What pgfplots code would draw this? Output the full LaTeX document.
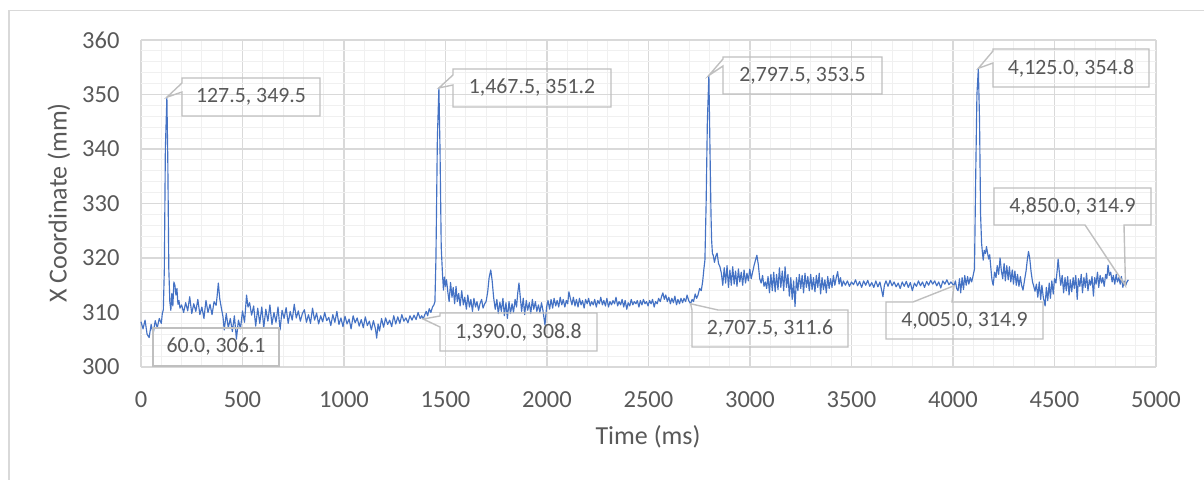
\documentclass[border=0pt]{standalone}
\usepackage{fontspec}
\setmainfont{Carlito}
\usepackage{pgfplots}
\pgfplotsset{compat=1.18}
\definecolor{textgray}{HTML}{595959}
\definecolor{boxgray}{HTML}{BFBFBF}
\definecolor{majgrid}{HTML}{D9D9D9}
\definecolor{mingrid}{HTML}{F0F0F0}
\definecolor{xlblue}{HTML}{4472C4}
\newcommand{\lbl}{\fontsize{21.8bp}{25bp}\selectfont}
\begin{document}
\begin{tikzpicture}[x=1bp,y=1bp]
\useasboundingbox (0,0) rectangle (1204,480);
\draw[majgrid, line width=1.2bp] (9,0) -- (9,469.5) -- (1204,469.5);
\begin{axis}[
  at={(141bp,113bp)}, anchor=south west,
  width=1015bp, height=327bp, scale only axis,
  xmin=0, xmax=5000, ymin=300, ymax=360,
  xtick distance=500, ytick distance=10,
  minor x tick num=4, minor y tick num=4,
  grid=both,
  major grid style={majgrid, line width=1.1bp},
  minor grid style={mingrid, line width=1.1bp},
  axis line style={draw=none},
  major tick length=0pt, minor tick length=0pt,
  scaled x ticks=false, scaled y ticks=false,
  /pgf/number format/assume math mode=true,
  /pgf/number format/1000 sep={},
  ticklabel style={font=\fontsize{24.5bp}{29bp}\selectfont, text=textgray},
  yticklabel style={xshift=-18bp},
  xticklabel style={yshift=-21bp},
  clip=false,
]
\addplot[xlblue, line width=1.15bp, line join=round, mark=none] coordinates {
(0,308.3) (10,307.0) (20,308.6) (30,306.0) (40,305.4) (50,307.8) (60,306.1) (70,308.5) (80,307.2) (90,308.9)
(100,308.0) (105,309.8) (110,310.5) (115,318) (120,340) (127.5,349.5) (132,338) (137,318) (142,312) (147,310.4)
(152,313.5) (157,311.2) (162,315.6) (167,315.0) (172,313.2) (177,314.4) (182,311.5) (187,312.2) (192,310.8) (200,311.4)
(210,310.0) (220,311.8) (230,310.3) (240,312.9) (250,309.8) (260,311.6) (270,310.2) (280,312.4) (290,309.6) (300,311.0)
(310,308.9) (320,312.2) (330,310.0) (340,311.5) (350,309.6) (360,312.0) (370,311.3) (375,313.0) (381,315.4) (388,312.5)
(395,311.0) (404,309.2) (410,306.8) (420,309.8) (430,307.2) (440,308.9) (450,306.5) (460,309.4) (470,305.1) (480,308.6)
(490,307.0) (500,310.3) (510,308.2) (520,313.2) (527,311.0) (535,311.8) (545,309.5) (555,311.2) (565,307.5) (575,310.8)
(585,308.0) (595,311.0) (605,307.3) (615,310.6) (625,308.4) (635,311.4) (645,307.8) (655,310.0) (665,308.2) (675,311.0)
(685,306.8) (695,310.4) (705,308.9) (715,310.9) (725,308.0) (735,310.2) (745,308.6) (755,311.5) (765,309.0) (775,310.3)
(785,308.4) (795,309.8) (805,310.5) (815,308.2) (825,309.6) (835,308.0) (845,310.8) (855,308.6) (865,309.9) (875,307.9)
(885,309.4) (895,308.3) (905,310.0) (915,308.5) (925,309.1) (935,307.6) (945,309.6) (955,308.2) (965,310.2) (975,307.8)
(985,309.0) (995,307.4) (1005,309.3) (1015,307.9) (1025,308.8) (1035,307.0) (1045,309.4) (1055,308.1) (1065,309.0) (1075,307.5)
(1085,308.7) (1095,307.2) (1105,309.2) (1115,307.6) (1125,308.4) (1135,306.8) (1145,308.5) (1155,307.0) (1161,305.3) (1168,307.9)
(1175,306.6) (1185,308.9) (1195,307.3) (1205,309.0) (1215,307.8) (1225,308.6) (1235,307.4) (1245,309.4) (1255,307.9) (1265,309.2)
(1275,308.0) (1285,309.6) (1295,308.4) (1305,309.0) (1315,308.1) (1325,309.4) (1335,308.6) (1345,309.5) (1355,308.7) (1365,310.0)
(1375,308.9) (1383,309.4) (1390,308.8) (1398,309.6) (1405,310.2) (1412,309.4) (1420,310.7) (1428,310.0) (1436,311.0) (1443,311.4)
(1448,312.0) (1453,320) (1460,342) (1467.5,351.2) (1473,340) (1479,322) (1485,317.2) (1490,314.1) (1495,316.5) (1500,314.8)
(1505,316.0) (1512,313.6) (1518,312.0) (1525,315.5) (1532,312.8) (1538,314.6) (1545,311.6) (1552,314.8) (1558,312.0) (1565,313.5)
(1572,311.2) (1580,314.0) (1588,311.4) (1595,312.8) (1603,310.6) (1610,313.2) (1618,311.0) (1625,312.4) (1633,310.2) (1640,312.6)
(1648,311.0) (1655,312.0) (1663,310.4) (1670,311.6) (1678,312.4) (1685,310.8) (1693,311.6) (1700,312.0) (1708,313.8) (1715,316.4)
(1723,317.8) (1730,315.8) (1737,312.8) (1745,310.6) (1753,312.4) (1760,309.8) (1768,311.9) (1775,310.2) (1783,312.6) (1790,309.4)
(1798,311.8) (1805,308.9) (1813,312.0) (1820,309.8) (1828,311.6) (1835,310.0) (1843,312.4) (1850,311.0) (1856,313.6) (1862,315.4)
(1868,313.0) (1875,310.2) (1883,312.6) (1890,309.6) (1898,312.2) (1905,310.4) (1913,311.8) (1920,309.8) (1928,312.4) (1935,310.6)
(1943,312.0) (1950,310.2) (1958,311.4) (1965,310.0) (1973,311.8) (1980,310.4) (1990,307.7) (1998,311.0) (2005,312.2) (2013,310.6)
(2020,312.4) (2028,310.8) (2035,312.6) (2043,311.2) (2050,312.2) (2058,311.0) (2065,312.8) (2073,311.4) (2080,312.4) (2088,311.0)
(2095,312.2) (2102,311.6) (2108,313.8) (2115,312.6) (2123,311.4) (2130,312.8) (2138,311.2) (2145,312.4) (2153,311.0) (2160,312.6)
(2168,311.4) (2175,312.2) (2183,310.8) (2190,312.4) (2198,311.6) (2205,312.6) (2213,311.2) (2220,312.0) (2228,311.4) (2235,312.4)
(2243,311.0) (2250,312.2) (2258,311.6) (2265,312.8) (2273,311.4) (2280,312.2) (2288,311.2) (2295,312.6) (2303,311.0) (2310,312.0)
(2318,311.4) (2325,312.2) (2333,311.6) (2340,312.8) (2348,311.2) (2355,312.0) (2363,311.4) (2370,312.4) (2378,311.0) (2385,312.2)
(2393,310.6) (2400,311.8) (2408,311.2) (2415,312.4) (2423,311.4) (2430,312.0) (2438,311.6) (2445,312.2) (2453,311.0) (2460,312.2)
(2468,311.4) (2475,312.4) (2483,311.6) (2490,312.0) (2498,311.2) (2505,312.2) (2513,311.6) (2520,312.4) (2528,311.0) (2535,312.0)
(2543,311.6) (2550,312.6) (2558,312.0) (2565,313.0) (2571,313.6) (2578,312.4) (2585,313.2) (2593,312.0) (2600,312.8) (2608,311.6)
(2615,312.6) (2623,311.8) (2630,313.0) (2638,311.4) (2645,312.4) (2653,311.6) (2660,312.6) (2668,311.8) (2675,312.6) (2683,312.0)
(2690,313.2) (2698,312.2) (2707.5,311.6) (2715,312.4) (2722,312.0) (2730,313.4) (2737,312.6) (2744,313.2) (2752,314.4) (2760,314.0)
(2767,315.7) (2773,318.0) (2778,319.6) (2784,330) (2790,345) (2797.5,353.5) (2803,340) (2808,328) (2811,323.3) (2815,320.8)
(2819,320.5) (2825,319.2) (2832,320.4) (2838,320.9) (2845,319.0) (2852,318.4) (2859,317.2) (2866,315.0) (2873,318.2) (2880,315.4)
(2887,318.6) (2894,314.6) (2901,317.8) (2908,315.0) (2915,318.4) (2922,315.2) (2929,317.6) (2936,314.8) (2943,318.0) (2950,315.6)
(2957,317.4) (2964,315.0) (2971,317.8) (2978,315.4) (2985,317.2) (2992,315.8) (2999,318.0) (3006,316.2) (3013,317.4) (3020,318.6)
(3027,319.6) (3034,320.5) (3041,318.8) (3048,316.2) (3055,315.4) (3062,316.8) (3069,314.8) (3076,315.6) (3082,314.4) (3089,316.6)
(3096,313.6) (3103,317.0) (3110,314.0) (3117,317.4) (3124,313.8) (3131,317.0) (3138,314.2) (3145,318.2) (3152,314.6) (3159,317.6)
(3166,314.0) (3173,318.4) (3180,314.6) (3187,317.0) (3194,313.0) (3201,316.4) (3208,312.4) (3215,315.8) (3222,311.1) (3229,316.4)
(3236,314.0) (3243,317.0) (3250,314.4) (3257,316.8) (3264,313.6) (3271,317.2) (3278,314.6) (3285,316.6) (3292,314.0) (3299,317.0)
(3306,314.2) (3313,316.4) (3320,313.8) (3327,316.8) (3334,314.6) (3341,317.2) (3348,313.4) (3355,316.4) (3362,314.2) (3369,316.0)
(3376,313.6) (3383,316.6) (3390,314.4) (3397,316.2) (3404,314.6) (3411,316.8) (3418,315.0) (3425,316.4) (3432,317.5) (3439,315.2)
(3446,316.4) (3453,314.8) (3460,315.8) (3470,315.0) (3480,315.8) (3490,314.8) (3500,315.6) (3510,315.1) (3520,316.0) (3530,314.9)
(3540,315.7) (3550,314.6) (3560,315.8) (3570,315.0) (3580,315.9) (3590,314.8) (3600,315.5) (3610,314.6) (3620,315.8) (3630,314.7)
(3640,315.6) (3648,314.2) (3655,312.9) (3662,315.0) (3670,315.8) (3680,314.8) (3690,315.9) (3700,314.9) (3710,315.6) (3720,314.7)
(3730,315.4) (3740,314.4) (3750,315.6) (3760,314.8) (3770,315.7) (3780,314.6) (3790,315.5) (3800,314.0) (3810,315.4) (3820,314.8)
(3830,315.8) (3840,314.9) (3850,315.6) (3860,314.6) (3870,315.7) (3880,315.0) (3890,315.9) (3900,315.2) (3910,315.8) (3920,314.9)
(3930,315.6) (3940,314.5) (3950,315.8) (3960,315.2) (3970,316.0) (3980,315.1) (3990,315.6) (4005,314.9) (4012,315.8) (4018,314.4)
(4025,314.0) (4032,316.2) (4038,313.6) (4045,316.4) (4052,314.2) (4058,316.8) (4065,315.0) (4072,316.6) (4078,315.2) (4085,316.4)
(4092,315.6) (4100,316.9) (4106,318) (4112,335) (4118,350) (4125,354.8) (4131,345) (4136,328) (4141,322.7) (4145,321.0)
(4149,319.6) (4154,321.4) (4160,320.8) (4165,322.1) (4170,321.0) (4176,319.8) (4181,320.6) (4187,318.0) (4192,316.0) (4198,315.0)
(4205,317.4) (4212,316.4) (4218,318.6) (4225,317.0) (4232,320.0) (4238,317.8) (4245,316.2) (4252,319.0) (4258,315.8) (4265,318.6)
(4272,316.0) (4278,318.4) (4285,315.6) (4292,317.8) (4298,315.2) (4305,317.6) (4312,315.0) (4318,317.0) (4325,314.8) (4332,316.6)
(4338,315.0) (4345,314.1) (4352,315.8) (4360,317.6) (4366,319.6) (4372,321.2) (4378,320.0) (4385,317.4) (4392,315.6) (4398,314.8)
(4404,313.9) (4411,315.2) (4418,312.8) (4425,315.6) (4432,312.4) (4438,315.0) (4445,312.8) (4454,311.2) (4460,314.6) (4467,312.2)
(4474,315.4) (4480,312.6) (4487,315.8) (4494,313.4) (4500,316.2) (4507,315.4) (4513,317.6) (4518,319.8) (4524,317.4) (4531,315.0)
(4538,316.8) (4545,313.6) (4552,316.4) (4558,314.0) (4565,316.6) (4572,313.2) (4578,316.0) (4585,313.8) (4592,316.4) (4598,314.4)
(4605,316.8) (4612,312.4) (4618,316.2) (4625,314.8) (4632,317.0) (4638,313.6) (4645,316.4) (4652,314.6) (4658,317.2) (4665,314.0)
(4672,316.0) (4678,315.0) (4685,316.6) (4692,313.0) (4698,316.4) (4705,315.2) (4712,317.4) (4718,314.6) (4725,316.8) (4732,315.4)
(4738,316.4) (4745,314.8) (4752,317.0) (4758,316.2) (4764,318.7) (4770,316.8) (4777,317.4) (4784,315.6) (4790,316.8) (4797,315.2)
(4804,317.0) (4810,315.6) (4817,316.4) (4824,315.2) (4830,316.6) (4837,314.6) (4843,315.8) (4850,314.9) (4857,315.6) (4864,316.0)
};
\coordinate (p1) at (axis cs:127.5,349.5);
\coordinate (p2) at (axis cs:1467.5,351.2);
\coordinate (p3) at (axis cs:2797.5,353.5);
\coordinate (p4) at (axis cs:4125.0,354.8);
\coordinate (p5) at (axis cs:4850.0,314.9);
\coordinate (p7) at (axis cs:1390.0,308.8);
\coordinate (p8) at (axis cs:2707.5,311.6);
\coordinate (p9) at (axis cs:4005.0,314.9);
\end{axis}
\begin{scope}[boxgray, line width=1.4bp, line join=miter]
\draw (182,402) -- (320,402) -- (320,364) -- (182,364) -- (182,388) -- (p1) -- (182,397) -- cycle;
\draw (453,411) -- (611,411) -- (611,373) -- (453,373) -- (453,395) -- (p2) -- (453,405) -- cycle;
\draw (723,423) -- (882,423) -- (882,386) -- (723,386) -- (723,414) -- (p3) -- (723,421) -- cycle;
\draw (993,431) -- (1149,431) -- (1149,393) -- (993,393) -- (993,417) -- (p4) -- (993,429) -- cycle;
\draw (994,292) -- (1151,292) -- (1151,255) -- (1124,255) -- (p5) -- (1085,255) -- (994,255) -- cycle;
\draw (153,152) rectangle (279,114);
\draw (440,167) -- (597,167) -- (597,129) -- (440,129) -- (440,153) -- (p7) -- (440,164) -- cycle;
\draw (692,170) -- (p8) -- (718,170) -- (848,170) -- (848,133) -- (692,133) -- cycle;
\draw (886,178) -- (913,178) -- (p9) -- (952,178) -- (1043,178) -- (1043,141) -- (886,141) -- cycle;
\end{scope}
\begin{scope}[every node/.style={text=textgray, font=\lbl, inner sep=0pt}]
\node at (251,383) {127.5, 349.5};
\node at (532,392) {1,467.5, 351.2};
\node at (802.5,404.5) {2,797.5, 353.5};
\node at (1071,412) {4,125.0, 354.8};
\node at (1072.5,273.5) {4,850.0, 314.9};
\node at (216,133) {60.0, 306.1};
\node at (518.5,148) {1,390.0, 308.8};
\node at (770,151.5) {2,707.5, 311.6};
\node at (964.5,159.5) {4,005.0, 314.9};
\end{scope}
\node[rotate=90, text=textgray, font=\fontsize{26bp}{30bp}\selectfont] at (59,277) {X Coordinate (mm)};
\node[text=textgray, font=\fontsize{26bp}{30bp}\selectfont] at (648,43) {Time (ms)};
\end{tikzpicture}
\end{document}
